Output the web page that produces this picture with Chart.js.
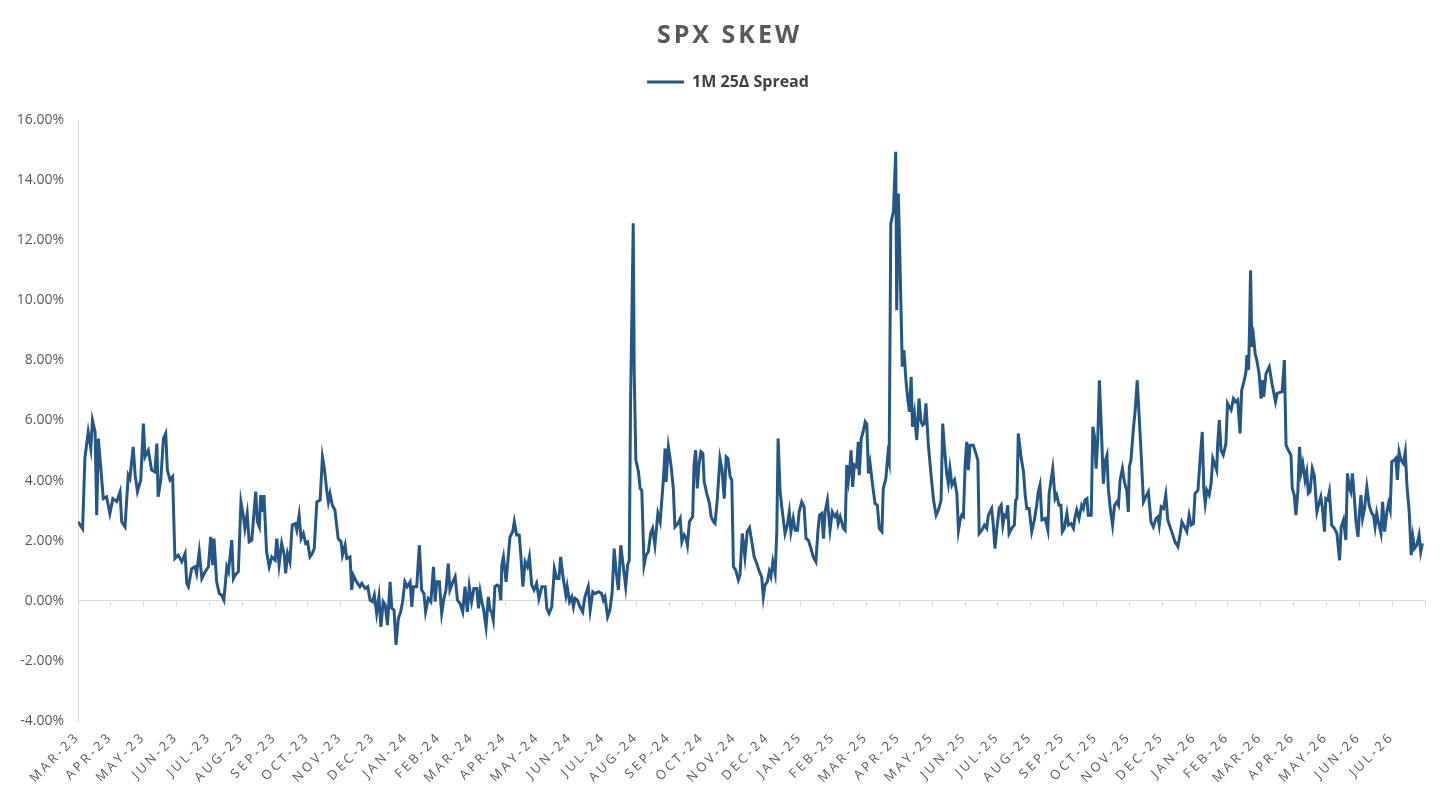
<!DOCTYPE html>
<html>
<head>
<meta charset="utf-8">
<title>SPX Skew</title>
<script src="https://cdn.jsdelivr.net/npm/chart.js@4.4.1/dist/chart.umd.min.js"></script>
<style>
  body { margin: 0; background: #fff; overflow: hidden; }
  #wrap { position: relative; width: 1456px; height: 798px; }
  #title {
    position: absolute; left: 0; top: 16px; width: 1456px; padding-left: 3px; box-sizing: border-box;
    text-align: center; font: bold 25px "Open Sans", sans-serif; line-height: 34px;
    letter-spacing: 3px; color: #595959;
  }
</style>
</head>
<body>
<div id="wrap">
  <div id="title">SPX SKEW</div>
  <canvas id="skewChart" width="1456" height="798"></canvas>
</div>
<script>
// month tick labels (tick i sits at the start of that month)
const months = [
  'MAR-23','APR-23','MAY-23','JUN-23','JUL-23','AUG-23','SEP-23','OCT-23','NOV-23','DEC-23',
  'JAN-24','FEB-24','MAR-24','APR-24','MAY-24','JUN-24','JUL-24','AUG-24','SEP-24','OCT-24',
  'NOV-24','DEC-24','JAN-25','FEB-25','MAR-25','APR-25','MAY-25','JUN-25','JUL-25','AUG-25',
  'SEP-25','OCT-25','NOV-25','DEC-25','JAN-26','FEB-26','MAR-26','APR-26','MAY-26','JUN-26','JUL-26'
];

// time of each observation, in months since 1 Mar 2023
const pos = [
  0.00,0.14,0.21,0.31,0.39,0.44,0.52,0.57,0.62,0.77,0.87,0.97,1.06,1.18,1.28,1.33,1.43,1.53,1.58,1.68,
  1.74,1.81,1.91,1.99,2.04,2.14,2.24,2.34,2.40,2.44,2.52,2.60,2.67,2.72,2.80,2.88,2.95,3.05,3.16,3.26,
  3.31,3.36,3.46,3.56,3.61,3.69,3.77,3.87,3.97,4.04,4.10,4.14,4.22,4.30,4.37,4.44,4.53,
  4.58,4.68,4.73,4.78,4.88,4.96,5.03,5.08,5.15,5.21,5.29,5.34,5.41,5.46,5.52,5.56,5.61,5.66,5.74,5.82,
  5.90,6.00,6.05,6.12,6.20,6.28,6.32,6.38,6.45,6.52,6.61,6.66,6.73,6.79,6.86,6.93,6.99,7.06,7.13,7.19,
  7.27,7.37,7.44,7.50,7.57,7.62,7.67,7.74,7.82,7.92,8.01,8.05,8.13,8.18,8.28,8.33,8.38,8.48,8.58,8.64,
  8.74,8.82,8.89,8.96,9.02,9.09,9.16,9.22,
  9.29,9.35,9.42,9.50,9.55,9.62,9.68,9.75,9.82,9.88,9.95,10.02,10.11,10.16,10.21,10.31,10.39,10.46,10.53,10.58,
  10.66,10.74,10.82,10.87,10.92,11.00,11.07,11.14,11.20,11.27,11.32,11.41,11.48,11.55,11.63,11.71,11.78,11.85,11.91,11.98,
  12.05,12.14,12.19,12.24,12.29,12.34,12.42,12.49,12.54,12.59,12.64,12.69,12.76,12.82,12.87,12.90,12.95,13.03,13.10,13.15,
  13.23,13.28,13.35,13.43,13.48,13.54,13.61,13.68,13.74,13.81,13.88,13.96,
  14.03,14.12,14.22,14.27,14.34,14.42,14.50,14.57,14.64,14.69,14.77,14.85,14.89,14.96,15.03,15.08,15.13,15.20,15.28,15.36,
  15.43,15.53,15.59,15.67,15.74,15.84,15.94,15.99,16.04,16.12,16.19,16.26,16.32,16.38,16.45,16.52,16.58,16.67,16.73,16.78,
  16.82,16.87,16.90,16.93,16.98,17.06,17.11,17.16,17.23,17.29,17.36,17.43,17.49,17.56,17.65,17.72,17.82,17.87,17.90,17.97,
  18.05,18.12,18.17,18.26,
  18.33,18.38,18.45,18.51,18.55,18.61,18.71,18.75,18.80,18.85,18.90,18.96,19.02,19.06,19.14,19.22,19.27,19.34,19.39,19.46,
  19.54,19.60,19.67,19.73,19.78,19.85,19.90,19.95,20.02,20.10,20.15,20.22,20.30,20.37,20.44,20.51,20.58,20.66,20.74,20.81,
  20.86,20.91,20.98,21.04,21.09,21.15,21.22,21.27,21.31,21.37,21.44,21.52,21.59,21.65,21.70,21.77,21.83,21.90,21.95,22.03,
  22.10,22.16,22.23,22.31,22.38,22.46,22.52,22.57,22.64,22.69,22.74,22.81,
  22.89,22.96,23.04,23.10,23.14,23.20,23.30,23.35,23.40,23.45,23.50,23.53,23.58,23.63,23.70,23.75,23.78,23.84,23.91,23.96,
  24.01,24.06,24.11,24.18,24.26,24.33,24.39,24.47,24.51,24.59,24.65,24.69,24.74,24.82,24.89,24.92,24.97,25.02,25.09,25.14,
  25.20,25.26,25.31,25.36,25.40,25.46,25.53,25.60,25.66,25.71,25.76,25.81,25.88,25.97,26.04,26.12,26.19,26.27,26.32,26.37,
  26.44,26.49,26.54,26.60,26.68,26.75,26.80,26.85,26.90,26.95,27.00,27.05,27.10,27.15,27.21,27.25,27.33,27.39,
  27.43,27.51,27.59,27.66,27.71,27.81,27.86,27.91,27.97,28.04,28.10,28.15,28.20,28.25,28.30,28.34,28.42,28.50,28.54,28.58,
  28.62,28.71,28.78,28.83,28.88,28.95,29.03,29.11,29.18,29.23,29.28,29.34,29.44,29.52,29.56,29.62,29.67,29.74,29.79,29.86,
  29.92,29.96,30.02,30.10,30.15,30.23,30.30,30.35,30.40,30.47,30.55,30.60,30.65,30.71,30.75,30.84,30.89,30.94,30.99,31.04,
  31.09,31.16,31.21,31.26,31.32,31.36,31.42,31.49,31.55,31.62,31.67,31.72,31.79,31.85,
  31.92,31.97,32.00,32.05,32.12,32.18,32.24,32.30,32.36,32.43,32.50,32.58,32.66,32.73,32.81,32.87,32.91,32.97,33.04,33.11,
  33.17,33.24,33.31,33.39,33.48,33.55,33.60,33.68,33.75,33.82,33.88,33.95,34.00,34.09,34.16,34.22,34.27,34.31,34.36,34.43,
  34.49,34.54,34.61,34.66,34.69,34.74,34.79,34.86,34.94,34.99,35.04,35.10,35.17,35.24,35.30,35.37,35.42,35.49,35.55,35.58,
  35.63,35.66,35.69,35.73,35.78,35.83,35.88,35.95,36.01,36.06,
  36.09,36.16,36.26,36.35,36.45,36.50,36.65,36.72,36.77,
  36.84,36.92,36.96,37.02,37.07,37.13,37.18,37.23,37.28,37.35,37.40,37.45,37.50,37.57,37.63,37.71,37.76,37.83,37.88,37.94,
  37.98,38.04,38.09,38.16,38.24,38.32,38.40,38.45,38.52,38.59,38.64,38.69,38.74,38.79,38.84,38.90,38.96,39.00,39.05,39.10,
  39.16,39.23,39.30,39.38,39.43,39.48,39.53,39.58,39.66,39.71,39.77,39.84,39.89,39.94,39.99,40.06,40.11,40.16,40.21,40.27,
  40.34,40.40,40.45,40.52,40.58,40.63,40.68,40.75,40.82,40.87,40.92
];

// 1M 25-delta put/call spread, in percent
const skew = [
  2.63,2.40,4.74,5.62,5.07,6.01,5.62,2.85,5.40,3.40,3.46,2.90,3.40,3.30,3.63,2.63,2.46,4.18,4.07,5.12,
  4.18,3.63,4.02,5.90,4.79,5.01,4.35,4.29,5.23,3.46,4.02,5.40,5.57,4.35,4.02,4.13,1.41,1.52,1.30,1.57,
  0.58,0.47,1.07,1.13,0.91,1.63,0.74,0.97,1.13,2.13,1.19,2.07,0.63,0.24,0.19,0.02,1.13,
  0.97,2.02,0.74,0.85,0.97,3.29,2.85,2.41,2.90,1.96,2.02,2.69,3.63,2.63,2.46,3.52,2.96,3.52,1.63,1.13,
  1.46,1.35,2.07,1.19,1.91,1.52,0.91,1.57,1.30,2.52,2.57,2.35,2.85,2.07,2.24,1.91,1.96,1.46,1.57,1.74,
  3.29,3.35,4.79,4.40,3.68,3.29,3.57,3.18,3.02,2.07,1.96,1.52,1.85,1.41,1.46,0.36,0.85,0.63,0.47,0.58,
  0.41,0.47,0.02,-0.03,0.19,-0.42,0.13,-0.87,
  -0.03,-0.13,-0.81,0.63,-0.25,-0.31,-1.47,-0.59,-0.37,-0.03,0.63,0.47,0.63,-0.20,0.47,0.47,1.85,0.36,0.24,-0.37,
  0.08,-0.03,1.13,-0.03,0.63,0.63,-0.42,0.08,0.36,1.24,0.36,0.63,0.80,0.02,-0.09,-0.37,0.47,-0.37,0.47,-0.03,
  0.41,0.41,-0.25,0.30,-0.03,-0.25,-0.87,0.13,-0.31,-0.37,-0.64,0.47,0.52,0.47,0.02,1.19,1.46,0.63,1.52,2.13,
  2.30,2.63,2.19,2.19,1.52,0.47,1.30,1.13,1.46,0.52,0.36,0.58,
  0.08,0.47,0.47,-0.25,-0.42,-0.20,1.07,0.74,0.74,1.46,0.74,0.19,0.47,-0.03,0.13,-0.20,0.08,0.02,-0.20,-0.37,
  0.13,0.47,-0.31,0.30,0.24,0.30,0.24,0.02,0.13,-0.53,-0.31,0.30,1.74,0.97,0.36,1.85,1.30,0.47,1.19,1.35,
  6.73,10.28,12.56,7.62,4.68,4.29,3.74,3.68,1.19,1.52,1.63,2.24,2.41,1.85,2.91,2.63,4.07,5.07,3.96,5.12,
  4.52,3.74,2.46,2.57,
  2.74,1.96,2.19,2.07,1.85,2.63,2.80,4.52,5.01,3.74,4.52,4.96,4.90,3.96,3.57,3.24,2.80,2.63,2.57,3.40,
  4.74,4.40,3.40,4.79,4.74,4.13,4.02,1.13,1.02,0.69,0.85,2.24,1.46,2.30,2.43,1.96,1.46,1.24,0.97,0.80,
  0.13,0.52,0.63,0.97,0.80,1.30,0.91,2.30,5.40,3.63,2.96,2.24,2.52,2.96,2.30,2.74,2.35,2.35,2.96,3.29,
  3.13,2.07,2.02,1.74,1.46,1.30,2.30,2.85,2.91,2.07,2.96,3.35,
  2.35,2.96,2.80,2.91,2.57,2.80,2.41,2.35,4.52,4.02,4.52,5.01,3.79,4.52,4.46,5.29,4.18,5.40,5.68,5.96,
  5.88,4.24,4.57,3.90,3.24,3.18,2.41,2.30,3.74,4.07,4.85,4.63,12.56,12.95,14.94,9.67,13.55,11.22,7.79,8.34,
  7.34,6.68,6.29,7.45,5.79,6.23,5.35,6.73,5.96,5.85,5.90,6.57,5.23,4.13,3.35,2.85,3.02,3.35,5.90,5.12,
  4.24,3.90,4.40,3.85,4.02,3.57,2.35,2.69,2.85,2.80,4.46,5.29,4.35,5.18,5.18,5.18,4.90,4.68,
  2.24,2.35,2.52,2.41,2.85,3.07,2.52,1.74,2.41,3.07,3.18,2.52,2.85,2.80,3.18,2.24,2.41,2.52,3.35,3.40,
  5.57,4.74,4.29,3.52,3.07,3.07,2.30,2.69,3.18,3.63,3.85,2.69,2.74,2.35,3.57,4.02,4.40,3.40,3.52,3.18,
  3.18,2.30,2.41,2.91,2.52,2.57,2.41,2.80,3.02,2.74,3.18,3.07,3.35,3.40,2.85,2.85,5.79,5.46,4.40,5.40,
  7.34,5.40,3.90,4.63,4.85,3.74,3.07,2.52,3.18,3.29,3.18,4.02,4.40,3.96,
  3.68,2.96,4.46,4.68,5.68,6.35,7.34,6.12,4.90,3.29,3.46,3.63,2.63,2.46,2.74,2.80,2.52,3.13,3.07,3.52,
  2.69,2.46,2.24,1.96,1.80,2.24,2.63,2.46,2.30,2.85,2.52,2.57,3.57,3.68,4.79,5.62,3.68,3.24,3.68,3.52,
  3.90,4.74,4.52,4.35,5.23,6.01,5.01,4.85,5.23,6.57,6.46,6.35,6.73,6.62,6.68,5.57,7.01,7.29,7.62,8.18,
  7.68,9.12,11.00,8.45,8.79,8.23,8.01,7.56,6.73,7.34,
  6.79,7.56,7.79,7.18,6.62,6.90,6.96,8.01,5.18,
  5.01,4.85,3.74,3.52,2.85,3.63,5.12,4.29,4.57,4.02,4.29,3.57,3.63,4.40,4.18,2.96,3.18,3.46,3.07,2.30,
  3.40,3.35,3.63,2.52,2.41,2.24,1.35,2.46,2.69,2.02,4.24,3.79,3.63,4.24,3.57,2.63,2.13,2.85,3.52,2.74,
  3.07,3.79,3.18,2.91,2.85,2.46,2.91,2.63,2.24,3.29,2.30,2.96,3.24,3.02,4.63,4.68,4.74,4.02,4.96,4.68,
  4.57,4.96,3.85,2.96,1.52,2.13,1.74,1.85,2.19,1.63,1.91
];

const lineColor = '#235789';
const axisGrey = '#d9d9d9';
const textGrey = '#595959';

// x tick labels in the original are letter-spaced
const spacedLabels = {
  id: 'spacedLabels',
  beforeDraw(chart) {
    const sc = chart.scales.x;
    if (sc._spaced) return;
    const orig = sc.drawLabels;
    sc.drawLabels = function (area) {
      this.ctx.save();
      this.ctx.letterSpacing = '3px';
      orig.call(this, area);
      this.ctx.restore();
    };
    sc._spaced = true;
  }
};

// extra room under the legend, and centre it on the whole canvas
const legendGap = {
  id: 'legendGap',
  beforeInit(chart) {
    const fit = chart.legend.fit;
    chart.legend.fit = function () {
      fit.bind(chart.legend)();
      this.height += 20;
    };
  },
  beforeDraw(chart) {
    chart.legend.left = 0;
    chart.legend.right = chart.width;
  }
};

new Chart(document.getElementById('skewChart'), {
  type: 'line',
  data: {
    datasets: [{
      label: '1M 25\u0394 Spread',
      data: pos.map((m, i) => ({ x: m, y: skew[i] })),
      borderColor: lineColor,
      backgroundColor: lineColor,
      borderWidth: 3,
      pointRadius: 0,
      tension: 0
    }]
  },
  options: {
    responsive: false,
    animation: false,
    layout: { padding: { top: 54, right: 31, left: 0, bottom: 0 } },
    plugins: {
      legend: {
        position: 'top',
        labels: {
          boxWidth: 37,
          boxHeight: 0,
          padding: 20,
          color: '#404040',
          font: { family: 'Open Sans', size: 16, weight: 'bold' }
        }
      },
      tooltip: { enabled: false }
    },
    scales: {
      x: {
        type: 'linear',
        position: 'bottom',
        min: 0,
        max: 41,
        grid: { display: false, drawTicks: false },
        border: { display: false },
        ticks: {
          stepSize: 1,
          autoSkip: false,
          minRotation: 45,
          maxRotation: 45,
          padding: 8,
          color: textGrey,
          font: { family: 'Open Sans', size: 13 },
          callback: v => months[v] || ''
        },
        afterFit(scale) { scale.height = 77; }
      },
      x2: {
        type: 'linear',
        position: { y: 0 },
        min: 0,
        max: 41,
        ticks: { display: false, stepSize: 1 },
        grid: { drawOnChartArea: false, drawTicks: true, tickLength: 5, color: axisGrey },
        border: { color: axisGrey, width: 1 }
      },
      y: {
        min: -4,
        max: 16,
        grid: { display: false, drawTicks: false },
        border: { color: axisGrey, width: 1 },
        ticks: {
          stepSize: 2,
          padding: 14,
          color: textGrey,
          font: { family: 'Open Sans', size: 14 },
          callback: v => v.toFixed(2) + '%'
        },
        afterFit(scale) { scale.width = 78; }
      }
    }
  },
  plugins: [spacedLabels, legendGap]
});
</script>
</body>
</html>
